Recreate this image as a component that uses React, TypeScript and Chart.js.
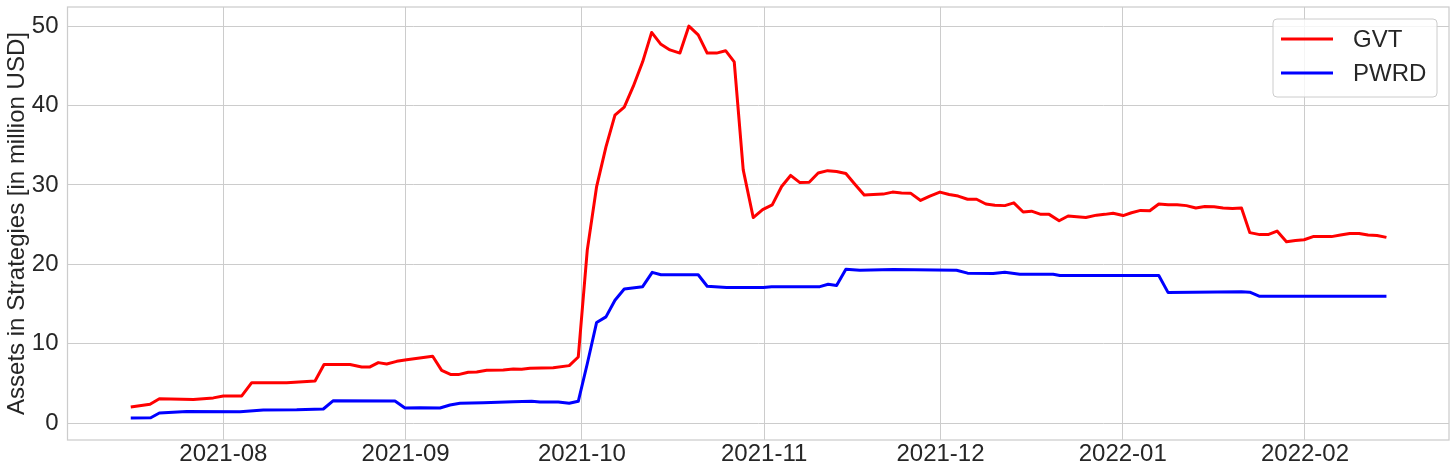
import React, { useEffect, useRef } from "react";
import { Chart, registerables } from "chart.js";

Chart.register(...registerables);

// x values are days counted from 2021-07-01 (day 0)
const gvtDays = [
  15.25, 18.53, 20.12, 25.9, 29.3, 31.0, 34.13, 35.83, 41.78, 46.6, 48.13, 52.55,
  54.54, 55.95, 57.36, 58.79, 60.49, 62.19, 66.61, 68.14, 69.73, 70.97, 72.67, 74.1,
  75.8, 78.62, 80.32, 81.75, 83.16, 87.12, 89.84, 91.38, 92.91, 94.5, 96.09, 97.62,
  99.2, 100.73, 102.33, 103.86, 105.44, 106.97, 108.67, 110.2, 111.78, 113.31, 114.91,
  116.44, 117.91, 119.44, 121.14, 122.74, 124.37, 125.97, 127.5, 129.08, 130.66,
  132.19, 133.79, 135.32, 136.9, 138.43, 140.02, 141.58, 143.25, 144.84, 146.37,
  147.9, 149.61, 151.19, 152.89, 154.47, 156.0, 157.6, 159.13, 160.71, 162.24,
  163.94, 165.47, 167.06, 168.48, 170.07, 171.48, 173.18, 174.71, 176.19, 177.72,
  179.54, 180.95, 182.36, 184.06, 185.49, 187.02, 188.6, 190.13, 191.72, 193.25,
  194.84, 196.43, 197.96, 199.54, 201.07, 202.67, 204.2, 205.61, 207.31, 208.72,
  210.25, 211.85, 213.38, 214.85, 216.38, 217.98, 219.51, 221.04, 222.62, 224.2,
  225.73, 227.26, 228.86,
];
const gvtValues = [
  2.05, 2.4, 3.1, 3.0, 3.2, 3.45, 3.45, 5.12, 5.12, 5.33, 7.4, 7.4,
  7.1, 7.1, 7.64, 7.47, 7.8, 8.0, 8.44, 6.67, 6.13, 6.13, 6.42, 6.46,
  6.67, 6.71, 6.84, 6.8, 6.93, 7.0, 7.26, 8.35, 21.8, 29.8, 34.8, 38.8,
  39.8, 42.4, 45.5, 49.2, 47.7, 47.0, 46.6, 50.0, 48.9, 46.6, 46.6,
  46.9, 45.5, 31.9, 25.9, 26.9, 27.5, 29.8, 31.2, 30.3, 30.35,
  31.5, 31.8, 31.7, 31.45, 30.1, 28.75, 28.8, 28.85, 29.1, 29.0,
  28.97, 28.05, 28.6, 29.1, 28.8, 28.6, 28.2, 28.2, 27.6, 27.45,
  27.4, 27.75, 26.6, 26.7, 26.3, 26.3, 25.5, 26.1, 26.0, 25.9,
  26.2, 26.3, 26.45, 26.15, 26.5, 26.8, 26.75, 27.6, 27.5, 27.5,
  27.4, 27.1, 27.3, 27.25, 27.1, 27.05, 27.1, 24.0, 23.75, 23.75,
  24.2, 22.85, 23.0, 23.1, 23.5, 23.5, 23.5, 23.7, 23.9, 23.9,
  23.7, 23.65, 23.4,
];

const pwrdDays = [
  15.25, 18.65, 20.12, 24.78, 33.84, 37.8, 43.48, 48.01, 49.71, 60.2, 61.9, 64.45,
  67.85, 69.56, 71.26, 75.22, 80.32, 83.45, 84.86, 87.97, 89.84, 91.38, 92.91, 94.5,
  96.09, 97.62, 99.2, 102.33, 103.96, 105.44, 111.78, 113.31, 116.61, 122.84, 124.27,
  132.48, 133.89, 135.32, 136.9, 139.28, 144.95, 155.73, 157.6, 161.95, 163.94,
  166.49, 172.16, 173.3, 180.1, 190.13, 191.72, 204.2, 205.61, 207.19, 228.86,
];
const pwrdValues = [
  0.67, 0.7, 1.3, 1.5, 1.45, 1.68, 1.7, 1.8, 2.85, 2.81, 1.93, 1.97,
  1.93, 2.31, 2.52, 2.6, 2.73, 2.77, 2.68, 2.68, 2.52, 2.77, 7.5, 12.7,
  13.4, 15.5, 16.9, 17.2, 19.0, 18.7, 18.7, 17.25, 17.1, 17.1, 17.2,
  17.2, 17.5, 17.35, 19.4, 19.27, 19.35, 19.27, 18.9, 18.85, 19.0,
  18.77, 18.75, 18.6, 18.6, 18.6, 16.45, 16.55, 16.5, 16.0, 16.0,
];

const monthTickDays = [31, 62, 92, 123, 153, 184, 215];
const monthTickLabels = ["2021-08", "2021-09", "2021-10", "2021-11", "2021-12", "2022-01", "2022-02"];
const yTickValues = [0, 10, 20, 30, 40, 50];
const seriesNames = ["GVT", "PWRD"];
const yAxisTitle = "Assets in Strategies [in million USD]";

const COLORS = ["#ff0000", "#0000ff"];
const GRID = "#cccccc";
const TEXT = "#262626";
const FONT = "'Liberation Sans', Arial, sans-serif";

const framePlugin = {
  id: "frame",
  afterDatasetsDraw(chart: any) {
    const { ctx, chartArea } = chart;
    ctx.save();
    ctx.strokeStyle = GRID;
    ctx.lineWidth = 1.25;
    ctx.strokeRect(chartArea.left, chartArea.top, chartArea.right - chartArea.left, chartArea.bottom - chartArea.top);
    ctx.restore();
  },
};

const legendPlugin = {
  id: "boxLegend",
  afterDraw(chart: any) {
    const { ctx, chartArea } = chart;
    const w = 164;
    const h = 78;
    const x = chartArea.right - 12 - w;
    const y = chartArea.top + 12;
    ctx.save();
    ctx.beginPath();
    const r = 4;
    ctx.moveTo(x + r, y);
    ctx.arcTo(x + w, y, x + w, y + h, r);
    ctx.arcTo(x + w, y + h, x, y + h, r);
    ctx.arcTo(x, y + h, x, y, r);
    ctx.arcTo(x, y, x + w, y, r);
    ctx.closePath();
    ctx.fillStyle = "rgba(255,255,255,0.8)";
    ctx.fill();
    ctx.strokeStyle = GRID;
    ctx.lineWidth = 1;
    ctx.stroke();
    ctx.font = `24px ${FONT}`;
    ctx.textBaseline = "middle";
    ctx.textAlign = "left";
    chart.data.datasets.forEach((ds: any, i: number) => {
      const ly = y + 20 + i * 34;
      ctx.strokeStyle = ds.borderColor;
      ctx.lineWidth = 3;
      ctx.beginPath();
      ctx.moveTo(x + 8, ly);
      ctx.lineTo(x + 60, ly);
      ctx.stroke();
      ctx.fillStyle = TEXT;
      ctx.fillText(ds.label, x + 80, ly + 1);
    });
    ctx.restore();
  },
};

export default function App() {
  const canvasRef = useRef<HTMLCanvasElement | null>(null);

  useEffect(() => {
    if (!canvasRef.current) return;
    const chart = new Chart(canvasRef.current, {
      type: "line",
      data: {
        datasets: [
          {
            label: seriesNames[0],
            data: gvtDays.map((d, i) => ({ x: d, y: gvtValues[i] })),
            borderColor: COLORS[0],
            backgroundColor: COLORS[0],
            borderWidth: 3,
            pointRadius: 0,
            tension: 0,
            borderJoinStyle: "round",
          },
          {
            label: seriesNames[1],
            data: pwrdDays.map((d, i) => ({ x: d, y: pwrdValues[i] })),
            borderColor: COLORS[1],
            backgroundColor: COLORS[1],
            borderWidth: 3,
            pointRadius: 0,
            tension: 0,
            borderJoinStyle: "round",
          },
        ],
      },
      options: {
        responsive: false,
        animation: false,
        layout: { padding: { top: 7, right: 7, left: 0, bottom: 0 } },
        plugins: {
          legend: { display: false },
          tooltip: { enabled: false },
        },
        scales: {
          x: {
            type: "linear",
            min: 4.49,
            max: 239.5,
            afterBuildTicks: (scale: any) => {
              scale.ticks = monthTickDays.map((v) => ({ value: v }));
            },
            afterFit: (scale: any) => {
              scale.height = 34;
              scale.paddingLeft = 0;
              scale.paddingRight = 0;
            },
            grid: { color: GRID, lineWidth: 1, drawTicks: false },
            border: { display: false },
            ticks: {
              autoSkip: false,
              maxRotation: 0,
              padding: 0,
              color: TEXT,
              font: { size: 24, family: FONT },
              callback: (value: any) => {
                const i = monthTickDays.indexOf(Number(value));
                return i >= 0 ? monthTickLabels[i] : "";
              },
            },
          },
          y: {
            type: "linear",
            min: -2.1,
            max: 52.4,
            afterBuildTicks: (scale: any) => {
              scale.ticks = yTickValues.map((v) => ({ value: v }));
            },
            afterFit: (scale: any) => {
              scale.width = 67.5;
              scale.paddingTop = 0;
              scale.paddingBottom = 0;
            },
            grid: { color: GRID, lineWidth: 1, drawTicks: false },
            border: { display: false },
            title: {
              display: true,
              text: yAxisTitle,
              color: TEXT,
              font: { size: 24, family: FONT },
              padding: { top: 3, bottom: 0 },
            },
            ticks: {
              padding: 9,
              color: TEXT,
              font: { size: 24, family: FONT },
              callback: (value: any) => String(value),
            },
          },
        },
      },
      plugins: [framePlugin, legendPlugin],
    });
    return () => chart.destroy();
  }, []);

  return (
    <div style={{ position: "absolute", left: 0, top: 0, width: 1456, height: 474, background: "#fff" }}>
      <canvas ref={canvasRef} width={1456} height={474} style={{ display: "block" }} />
    </div>
  );
}
